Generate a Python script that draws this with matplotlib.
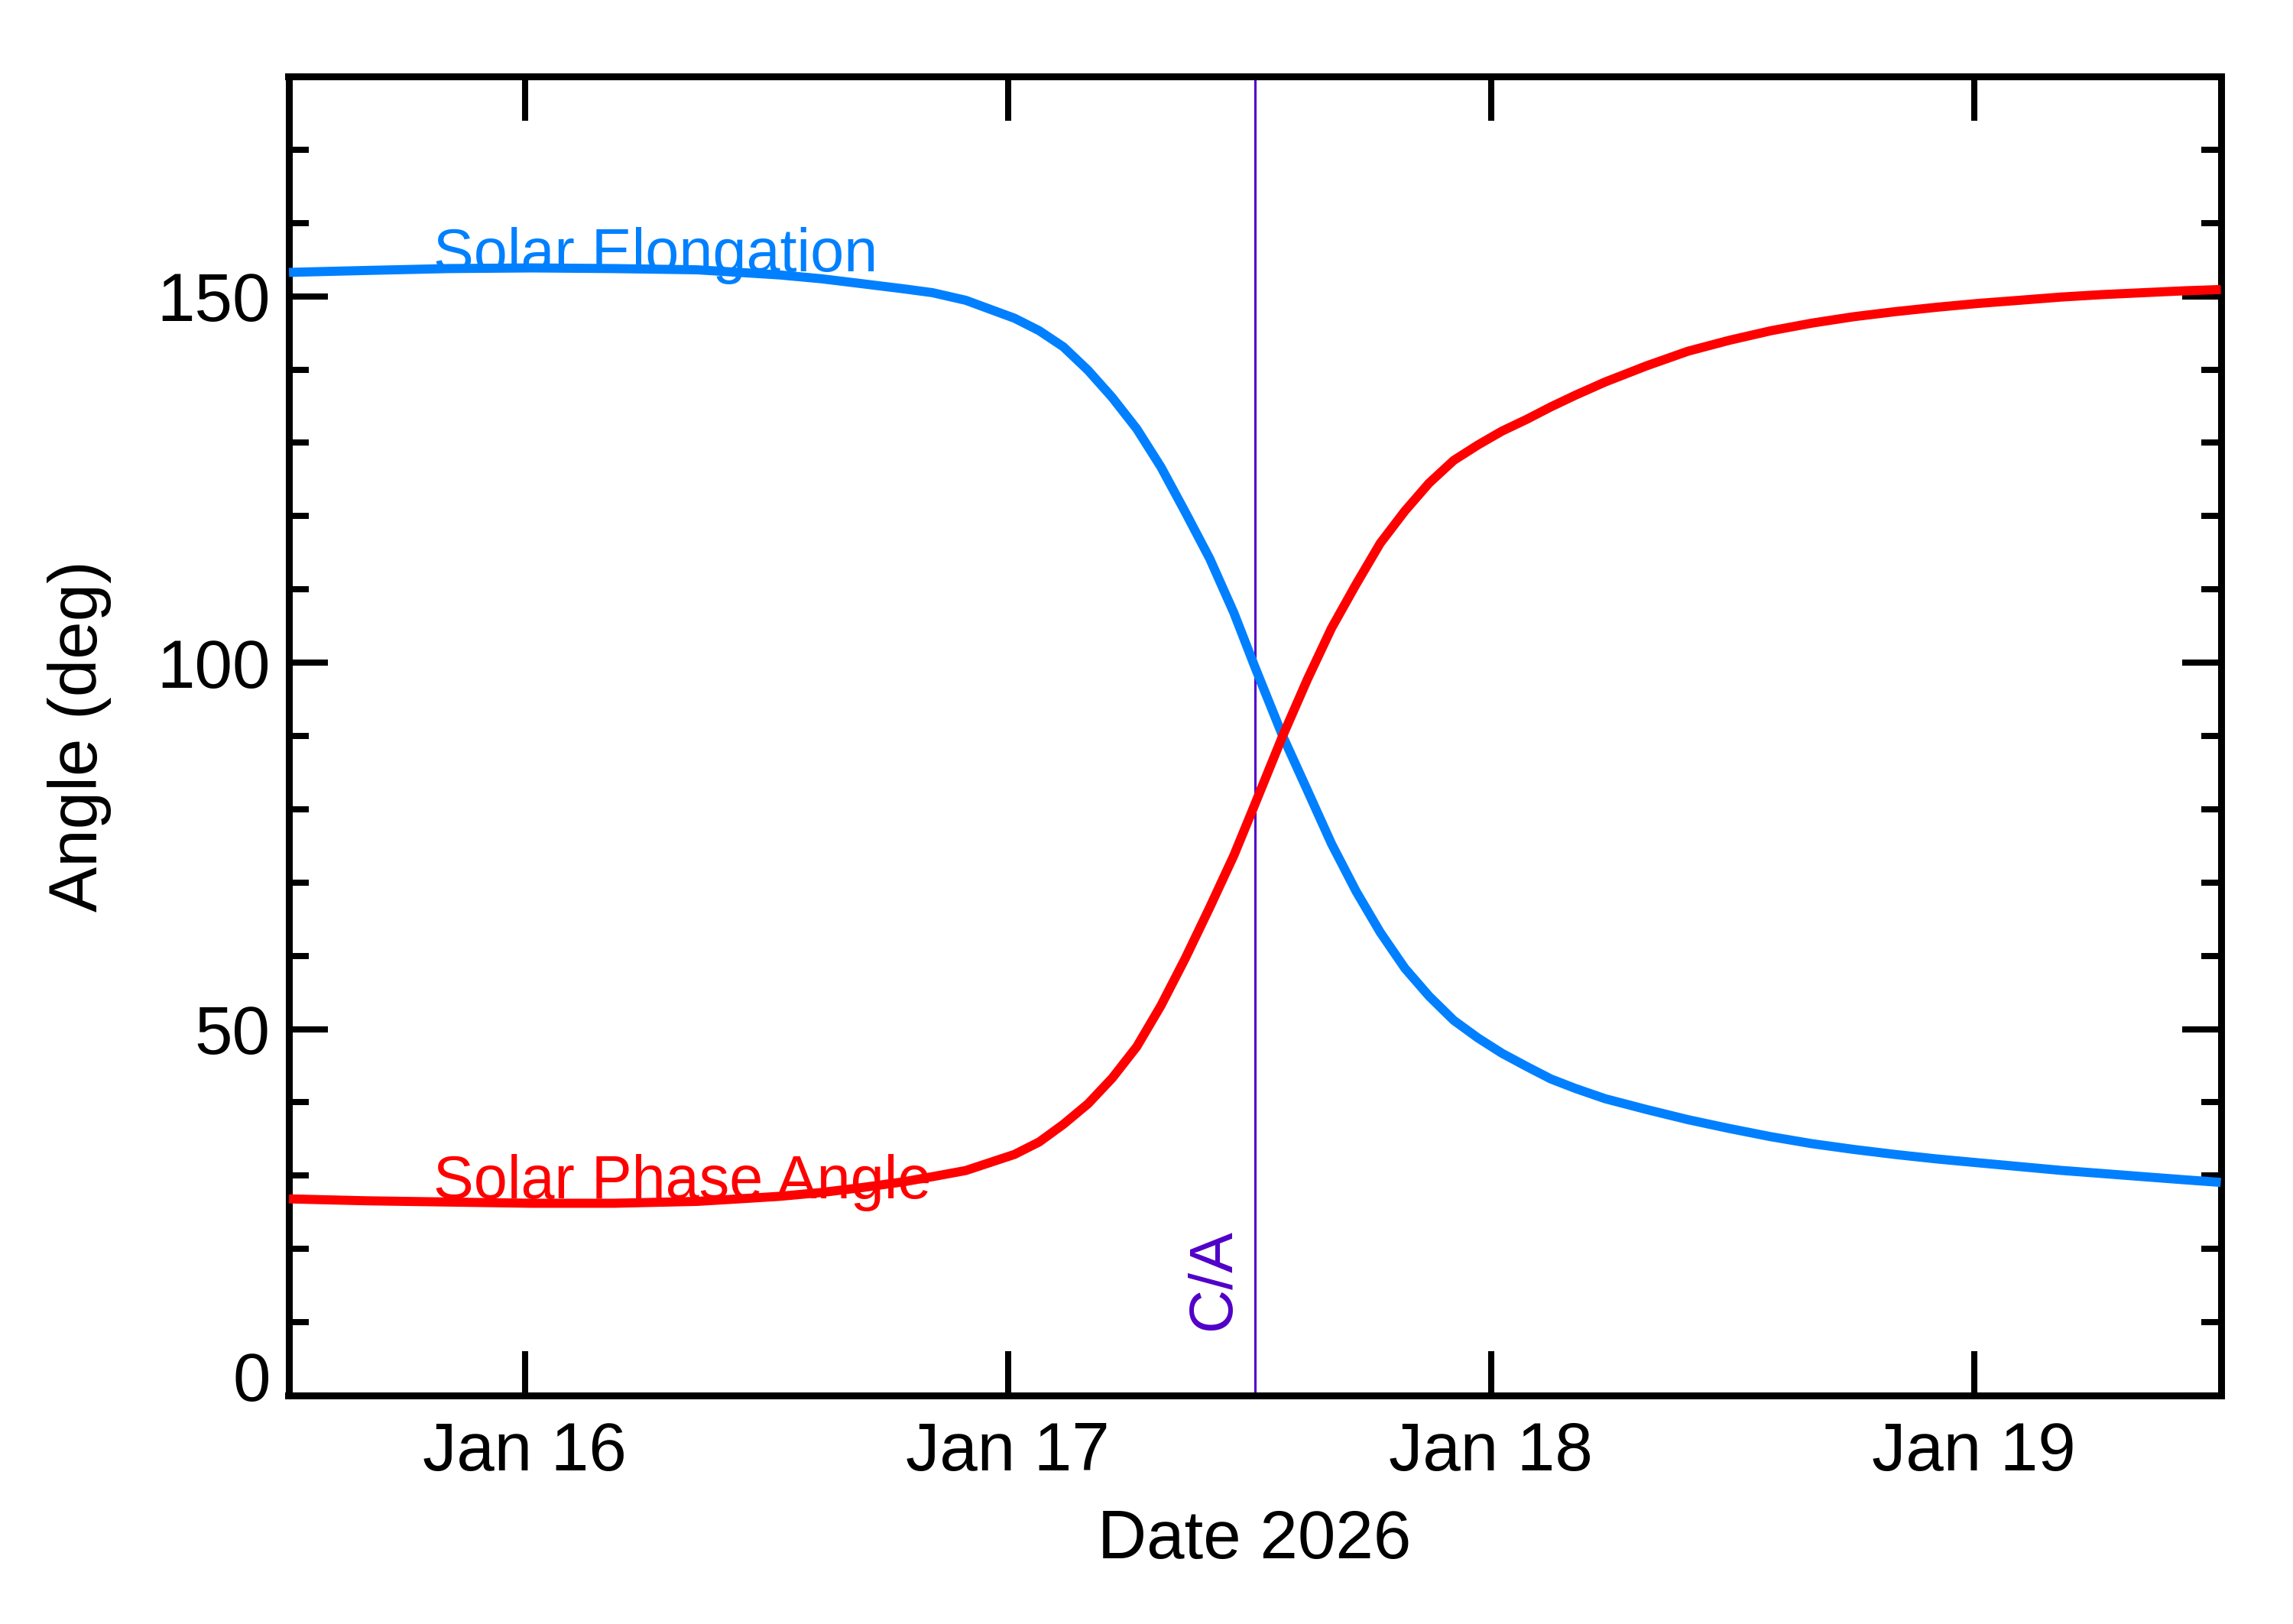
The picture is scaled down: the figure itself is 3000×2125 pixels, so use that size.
import matplotlib
matplotlib.use("Agg")
import matplotlib.pyplot as plt
import matplotlib.transforms as mtransforms
from matplotlib.ticker import FixedLocator, MultipleLocator

plt.rcParams['font.family'] = ['Liberation Sans', 'DejaVu Sans']

# days since 2026-01-16 00:00
days = [-0.488, -0.329, -0.158, 0.014, 0.185, 0.357, 0.443, 0.528, 0.614, 0.700,
        0.785, 0.844, 0.913, 1.014, 1.065, 1.115, 1.166, 1.216, 1.267, 1.317,
        1.367, 1.418, 1.468, 1.511, 1.569, 1.620, 1.670, 1.721, 1.771, 1.822,
        1.872, 1.923, 1.973, 2.023, 2.074, 2.124, 2.175, 2.2365, 2.322, 2.408,
        2.494, 2.580, 2.665, 2.751, 2.837, 2.923, 3.008, 3.094, 3.180, 3.266,
        3.351, 3.437, 3.511]
elongation = [153.26, 153.52, 153.78, 153.87, 153.78, 153.61, 153.26, 152.91, 152.39, 151.70,
              151.01, 150.49, 149.45, 147.0, 145.3, 143.1, 139.9, 136.2, 131.9, 126.7,
              120.6, 114.2, 106.8, 99.5, 90.0, 82.6, 75.3, 68.8, 63.2, 58.3,
              54.5, 51.2, 48.8, 46.7, 44.9, 43.2, 41.9, 40.5, 39.03, 37.64,
              36.43, 35.31, 34.36, 33.58, 32.89, 32.28, 31.76, 31.24, 30.72, 30.29,
              29.86, 29.43, 29.08]
phase = [26.83, 26.57, 26.40, 26.23, 26.23, 26.49, 26.83, 27.18, 27.70, 28.39,
         29.17, 29.86, 30.7, 32.9, 34.6, 37.0, 39.8, 43.3, 47.6, 53.2,
         59.6, 66.6, 73.7, 80.6, 90.0, 97.7, 104.7, 110.7, 116.3, 120.7,
         124.5, 127.6, 129.7, 131.6, 133.2, 134.9, 136.5, 138.3, 140.5, 142.5,
         144.0, 145.3, 146.34, 147.21, 147.90, 148.50, 149.02, 149.45, 149.89, 150.23,
         150.49, 150.75, 150.92]
close_approach = 1.511
x_ticks = [0, 1, 2, 3]
x_tick_labels = ['Jan 16', 'Jan 17', 'Jan 18', 'Jan 19']
y_ticks = [0, 50, 100, 150]

BLUE = '#0080FF'
RED = '#FF0000'
PURPLE = '#5000C8'

fig = plt.figure(figsize=(30, 21.25), dpi=100)
ax = fig.add_axes([377.5 / 3000, 1 - 1826 / 2125, 2528 / 3000, 1726 / 2125])

ax.plot(days, elongation, color=BLUE, lw=8.6, solid_joinstyle='round', solid_capstyle='butt', zorder=3)
ax.plot(days, phase, color=RED, lw=8.6, solid_joinstyle='round', solid_capstyle='butt', zorder=3)
ax.axvline(close_approach, color=PURPLE, lw=2.2, zorder=2)

ax.set_xlim(close_approach - 2, close_approach + 2)
ax.set_ylim(0, 180)

ax.xaxis.set_major_locator(FixedLocator(x_ticks))
ax.set_xticklabels(x_tick_labels)
ax.yaxis.set_major_locator(FixedLocator(y_ticks))
ax.yaxis.set_minor_locator(MultipleLocator(10))

for s in ax.spines.values():
    s.set_linewidth(6.5)

ax.tick_params(axis='both', which='both', direction='in', top=True, right=True,
               width=5.8, labelsize=64, colors='black')
ax.tick_params(axis='x', which='major', length=41.5, pad=24)
ax.tick_params(axis='y', which='major', length=36.7, pad=17)
ax.tick_params(axis='y', which='minor', length=18.4)
ax.tick_params(axis='x', which='minor', length=0)

# zero label sits a little above the axis in the original
lbl0 = ax.yaxis.get_major_ticks()[0].label1
lbl0.set_transform(lbl0.get_transform() + mtransforms.ScaledTranslation(0, 0.25, fig.dpi_scale_trans))

ax.set_xlabel('Date 2026', fontsize=64)
ax.xaxis.set_label_coords(0.5, -0.086)
ax.set_ylabel('Angle (deg)', fontsize=64)
ax.yaxis.set_label_coords(-0.0915, 0.5)

ax.text(-0.189, 153.4, 'Solar Elongation', color=BLUE, fontsize=57,
        ha='left', va='baseline', zorder=4)
ax.text(-0.189, 26.9, 'Solar Phase Angle', color=RED, fontsize=57,
        ha='left', va='baseline', zorder=4)
ax.text(close_approach - 0.024, 9.0, 'C/A', color=PURPLE, fontsize=57,
        rotation=90, ha='right', va='bottom', zorder=4)

fig.savefig('out.png', dpi=100, facecolor='white')
